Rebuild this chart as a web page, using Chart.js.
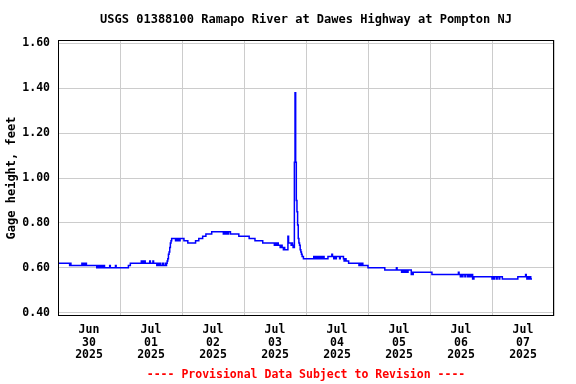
<!DOCTYPE html>
<html><head><meta charset="utf-8">
<script src="https://cdn.jsdelivr.net/npm/chart.js@4/dist/chart.umd.min.js"></script>
<style>html,body{margin:0;padding:0;background:#fff}</style>
</head><body>
<canvas id="c" width="576" height="384"></canvas>
<script>
// Hours since Jun 30 2025 00:00 at which the gage reading changes
const hours = [
  0, 4.5, 4.75, 5.0, 9.25, 9.5, 9.75, 10.25, 10.5, 11.0,
  15.0, 15.5, 15.75, 16.25, 16.5, 17.0, 17.25, 17.75, 18.0, 20.0, 20.25, 22.25, 22.5,
  27.25, 28.0, 32.25, 32.5, 32.75, 33.25, 33.5, 33.75, 35.5, 35.75, 36.75, 37.0,
  38.25, 38.5, 39.0, 39.5, 39.75, 40.5, 40.75, 41.5, 41.75, 42.0,
  42.25, 42.5, 42.75, 43.0, 43.25, 43.5, 43.75, 44.0,
  45.5, 45.75, 46.25, 46.5, 47.0, 47.25, 48.75, 50.25, 53.25, 54.5, 56.0, 57.25, 59.5,
  64.0, 64.25, 64.75, 65.0, 65.5, 66.0, 66.75, 70.0, 74.0, 76.25, 79.25,
  83.75, 84.0, 84.5, 84.75, 85.25, 86.0, 86.5, 86.75, 87.25, 87.5, 87.75, 88.75,
  89.0, 89.25, 90.25, 90.5, 90.75, 91.0,
  91.5, 91.75, 92.0, 92.25, 92.5, 92.75, 93.0, 93.25, 93.5, 93.75, 94.0, 94.25, 94.5, 95.0,
  99.0, 99.25, 99.75, 100.0, 100.5, 100.75, 101.25, 101.5, 102.0, 102.25, 102.75, 103.0,
  104.5, 106.0, 106.25, 106.75, 107.0, 107.5, 107.75, 109.0, 109.25, 110.5, 110.75, 111.25, 111.5,
  112.5, 116.5, 116.75, 117.25, 117.5, 118.0, 120.0, 126.5, 131.0, 131.25,
  133.0, 133.25, 133.75, 134.0, 134.5, 134.75, 135.25, 135.5, 136.75, 137.0, 137.25, 137.5,
  144.75, 155.0, 155.25, 155.75, 156.0, 156.5, 156.75, 157.5, 157.75, 158.5, 159.0, 159.5, 160.0, 160.5, 161.0,
  168.0, 168.25, 168.75, 169.0, 169.75, 170.0, 170.75, 171.0, 172.0,
  178.0, 181.0, 181.25, 181.5, 181.75, 182.25, 182.5, 183.0, 183.5
];
// Gage height, feet
const gageFt = [
  0.62, 0.61, 0.62, 0.61, 0.62, 0.61, 0.62, 0.61, 0.62, 0.61,
  0.60, 0.61, 0.60, 0.61, 0.60, 0.61, 0.60, 0.61, 0.60, 0.61, 0.60, 0.61, 0.60,
  0.61, 0.62, 0.63, 0.62, 0.63, 0.62, 0.63, 0.62, 0.63, 0.62, 0.63, 0.62,
  0.61, 0.62, 0.61, 0.62, 0.61, 0.62, 0.61, 0.62, 0.61, 0.62,
  0.63, 0.64, 0.66, 0.67, 0.69, 0.71, 0.72, 0.73,
  0.72, 0.73, 0.72, 0.73, 0.72, 0.73, 0.72, 0.71, 0.72, 0.73, 0.74, 0.75, 0.76,
  0.75, 0.76, 0.75, 0.76, 0.75, 0.76, 0.75, 0.74, 0.73, 0.72, 0.71,
  0.70, 0.71, 0.70, 0.71, 0.70, 0.69, 0.70, 0.69, 0.68, 0.69, 0.68, 0.68,
  0.74, 0.71, 0.70, 0.71, 0.70, 0.69,
  1.07, 1.38, 1.07, 0.90, 0.85, 0.79, 0.73, 0.71, 0.70, 0.68, 0.67, 0.66, 0.65, 0.64,
  0.65, 0.64, 0.65, 0.64, 0.65, 0.64, 0.65, 0.64, 0.65, 0.64, 0.65, 0.64,
  0.65, 0.66, 0.65, 0.64, 0.65, 0.64, 0.65, 0.64, 0.65, 0.64, 0.63, 0.64, 0.63,
  0.62, 0.61, 0.62, 0.61, 0.62, 0.61, 0.60, 0.59, 0.60, 0.59,
  0.58, 0.59, 0.58, 0.59, 0.58, 0.59, 0.58, 0.59, 0.57, 0.58, 0.57, 0.58,
  0.57, 0.58, 0.57, 0.56, 0.57, 0.56, 0.57, 0.56, 0.57, 0.56, 0.57, 0.56, 0.57, 0.55, 0.56,
  0.55, 0.56, 0.55, 0.56, 0.55, 0.56, 0.55, 0.56, 0.55,
  0.56, 0.57, 0.56, 0.55, 0.56, 0.55, 0.56, 0.55, 0.55
];
const dayLabels = [
  ['Jun', '30', '2025'], ['Jul', '01', '2025'], ['Jul', '02', '2025'], ['Jul', '03', '2025'],
  ['Jul', '04', '2025'], ['Jul', '05', '2025'], ['Jul', '06', '2025'], ['Jul', '07', '2025']
];
const yTicks = [0.40, 0.60, 0.80, 1.00, 1.20, 1.40, 1.60];
const titleText = 'USGS 01388100 Ramapo River at Dawes Highway at Pompton NJ';
const yTitle = 'Gage height, feet';
const noteText = '---- Provisional Data Subject to Revision ----';

const FONT = "'DejaVu Sans Mono', 'Liberation Mono', monospace";

const frame = {
  id: 'frame',
  afterDraw(chart) {
    const a = chart.chartArea, c = chart.ctx;
    c.save();
    c.strokeStyle = '#000';
    c.lineWidth = 1;
    c.strokeRect(Math.round(a.left) + 0.5, Math.round(a.top) + 0.5,
      Math.round(a.right - a.left) - 1, Math.round(a.bottom - a.top) - 1);
    c.restore();
  }
};

new Chart(document.getElementById('c').getContext('2d'), {
  type: 'line',
  data: {
    datasets: [{
      data: hours.map((h, i) => ({ x: h, y: gageFt[i] })),
      borderColor: '#0000ff',
      borderWidth: 1.5,
      pointRadius: 0,
      stepped: true,
      fill: false
    }]
  },
  options: {
    responsive: false,
    animation: false,
    layout: { padding: { left: 0, right: 22, top: 0, bottom: 0 } },
    plugins: {
      legend: { display: false },
      tooltip: { enabled: false },
      title: {
        display: true, text: titleText, color: '#000', fullSize: false,
        font: { family: FONT, size: 12, weight: 'bold', lineHeight: 1 },
        padding: { top: 14, bottom: 14 }
      },
      subtitle: {
        display: true, position: 'bottom', text: noteText, color: '#ff0000', fullSize: false,
        font: { family: FONT, size: 11.5, weight: 'bold', lineHeight: 1 },
        padding: { top: 4, bottom: 3 }
      }
    },
    scales: {
      x: {
        type: 'linear', min: 0, max: 192,
        afterFit(s) { s.height = 49.5; },
        border: { display: false },
        grid: {
          drawTicks: false, lineWidth: 1,
          color: (c) => (c.tick && c.tick.value % 24 === 0) ? '#cccccc' : 'rgba(0,0,0,0)'
        },
        ticks: {
          stepSize: 12, autoSkip: false, maxRotation: 0, minRotation: 0, padding: 8,
          color: '#000',
          font: { family: FONT, size: 11.5, weight: 'bold', lineHeight: '12.5px' },
          callback(v) {
            if ((v - 12) % 24 === 0) return dayLabels[(v - 12) / 24];
            return '';
          }
        }
      },
      y: {
        min: 0.385, max: 1.615,
        afterBuildTicks(s) { s.ticks = yTicks.map(v => ({ value: v })); },
        afterFit(s) { s.width = 58; },
        border: { display: false },
        grid: { drawTicks: false, color: '#cccccc', lineWidth: 1 },
        ticks: {
          padding: 8, color: '#000',
          font: { family: FONT, size: 11.5, weight: 'bold' },
          callback: (v) => Number(v).toFixed(2)
        },
        title: {
          display: true, text: yTitle, color: '#000',
          font: { family: FONT, size: 12, weight: 'bold', lineHeight: 1 },
          padding: { top: 6, bottom: 0 }
        }
      }
    }
  },
  plugins: [frame]
});
</script>
</body></html>
